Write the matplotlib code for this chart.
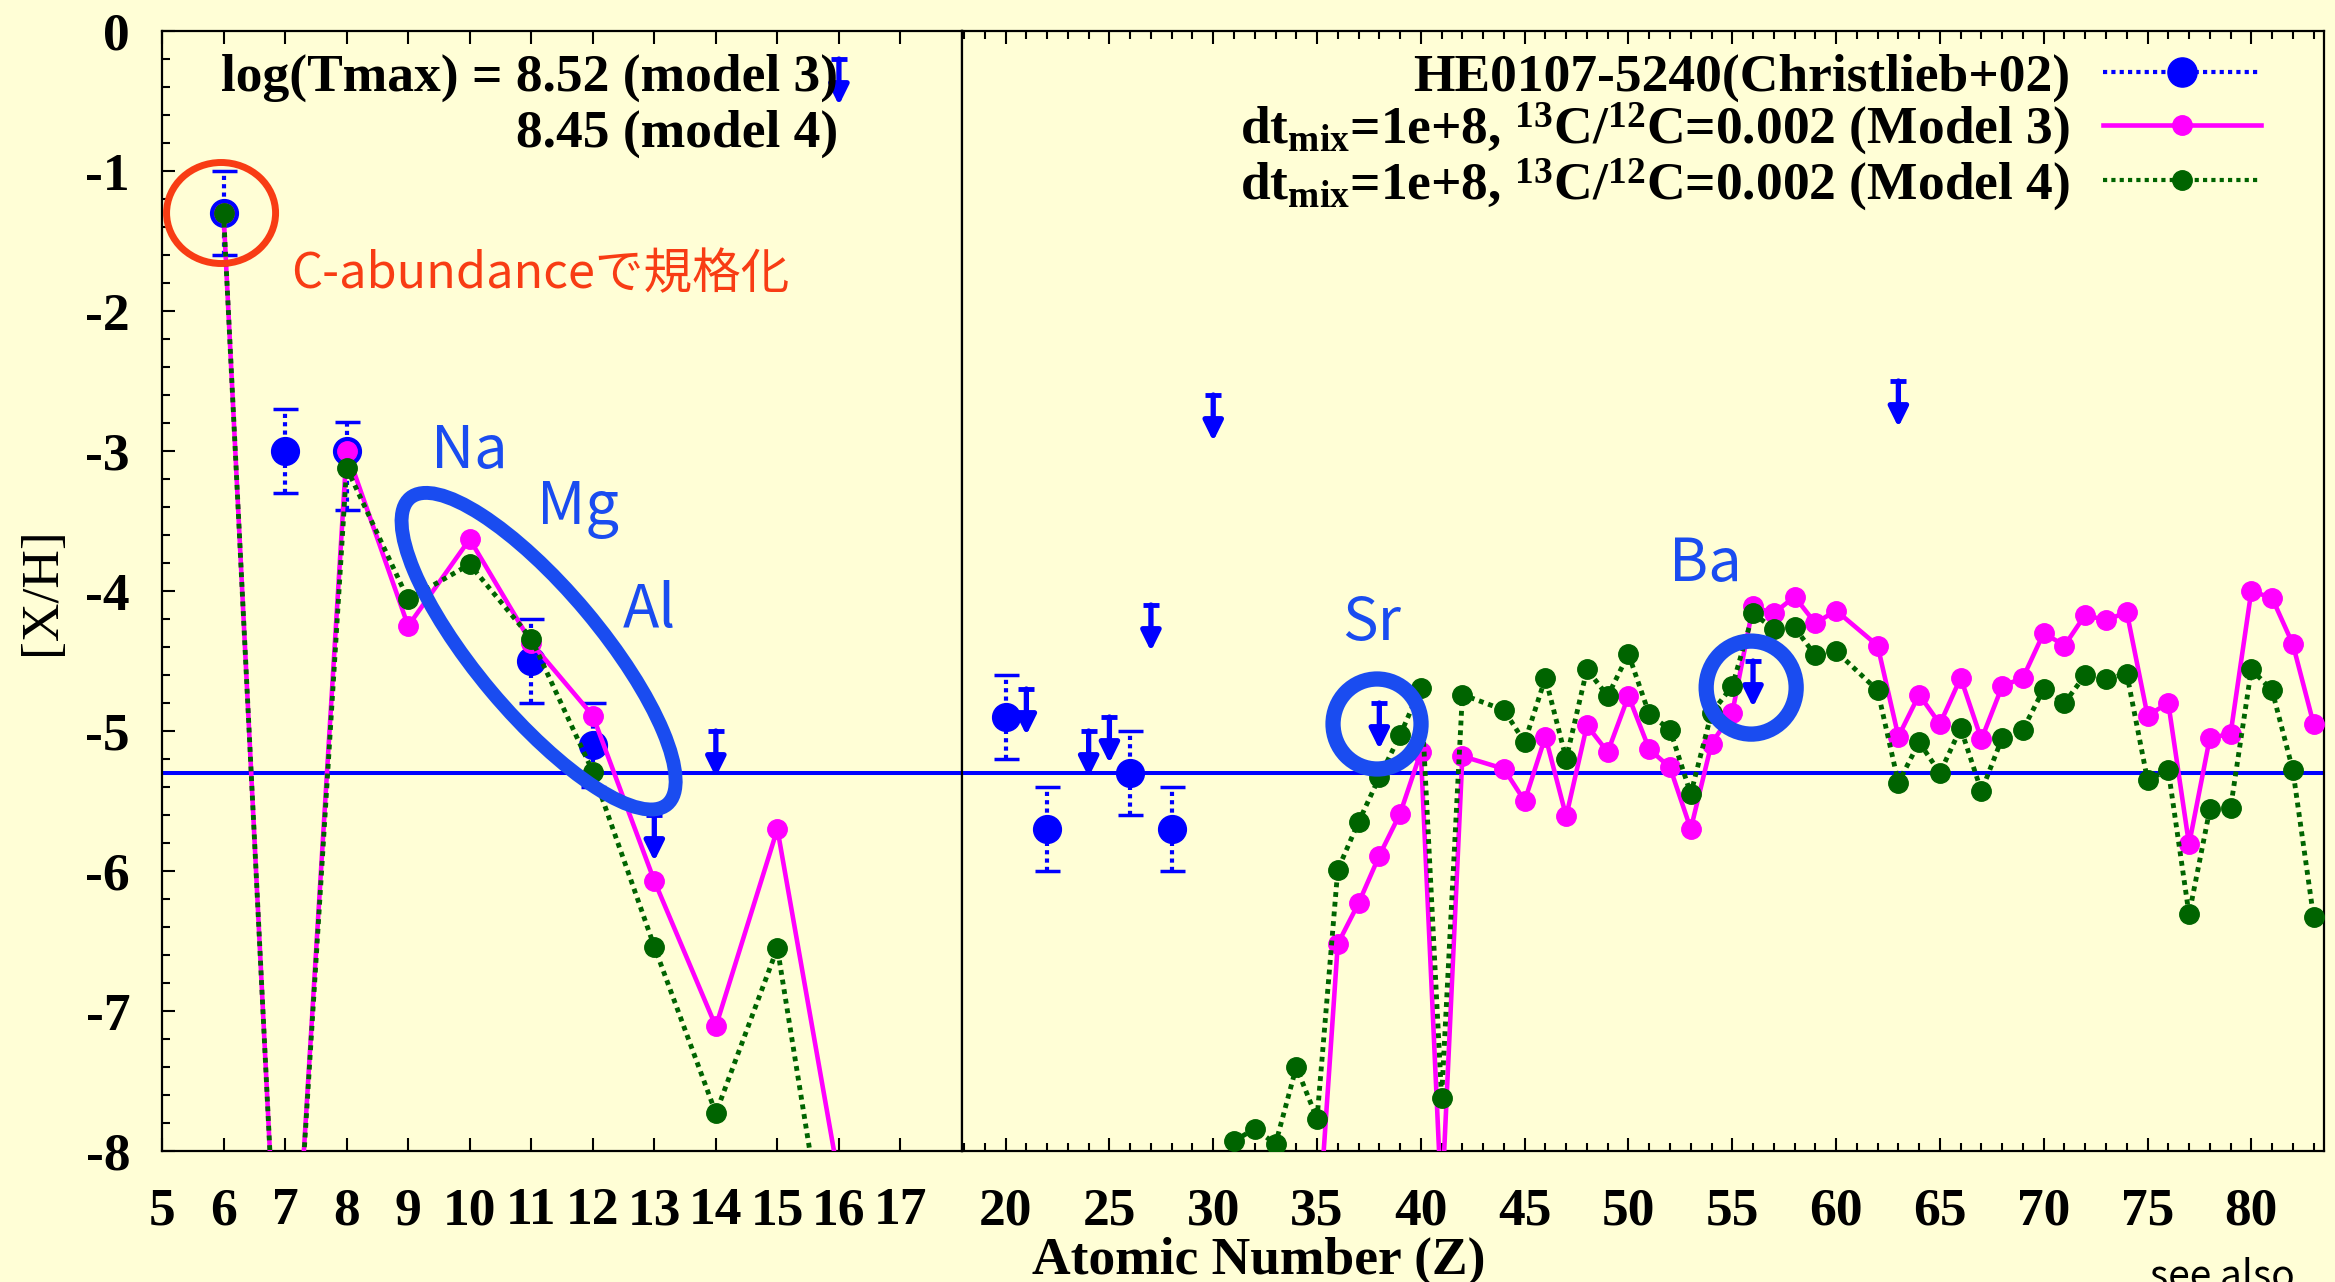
import matplotlib
matplotlib.use('Agg')
import matplotlib.pyplot as plt
from matplotlib.patches import Ellipse
from matplotlib.transforms import IdentityTransform
from matplotlib.lines import Line2D
from matplotlib.ticker import MultipleLocator

plt.rcParams['font.family'] = ['Liberation Serif', 'DejaVu Serif']
plt.rcParams['font.weight'] = 'bold'
plt.rcParams['axes.unicode_minus'] = False
plt.rcParams['mathtext.fontset'] = 'custom'
plt.rcParams['mathtext.rm'] = 'Liberation Serif:bold'
plt.rcParams['mathtext.it'] = 'Liberation Serif:bold'
plt.rcParams['mathtext.bf'] = 'Liberation Serif:bold'

# HE0107-5240 (Christlieb+02): detections
obs_z = [6, 7, 8, 11, 12, 20, 22, 26, 28]
obs_xh = [-1.3, -3.0, -3.0, -4.5, -5.1, -4.9, -5.7, -5.3, -5.7]
obs_err_lo = [0.3, 0.3, 0.42, 0.3, 0.3, 0.3, 0.3, 0.3, 0.3]
obs_err_hi = [0.3, 0.3, 0.21, 0.3, 0.3, 0.3, 0.3, 0.3, 0.3]
# upper limits
lim_z = [13, 14, 16, 21, 24, 25, 27, 30, 38, 56, 63]
lim_xh = [-5.6, -5.0, -0.2, -4.7, -5.0, -4.9, -4.1, -2.6, -4.8, -4.5, -2.5]
feh = -5.3

# models, light elements (left panel)
z_left = [6, 7, 8, 9, 10, 11, 12, 13, 14, 15, 16]
m3_left = [-1.3, -10.2, -3.0, -4.25, -3.63, -4.37, -4.89, -6.07, -7.11, -5.70, -8.2]
m4_left = [-1.3, -10.2, -3.12, -4.06, -3.81, -4.34, -5.29, -6.54, -7.73, -6.55, -9.3]

# models, heavy elements (right panel)
z3_right = [35, 36, 37, 38, 39, 40, 41, 42, 44, 45, 46, 47, 48, 49, 50, 51, 52, 53, 54,
            55, 56, 57, 58, 59, 60, 62, 63, 64, 65, 66, 67, 68, 69, 70, 71, 72, 73, 74,
            75, 76, 77, 78, 79, 80, 81, 82, 83]
m3_right = [-8.7, -6.52, -6.23, -5.89, -5.59, -5.15, -8.4, -5.18, -5.27, -5.50, -5.04,
            -5.61, -4.96, -5.15, -4.75, -5.13, -5.26, -5.70, -5.09, -4.87, -4.11, -4.16,
            -4.04, -4.23, -4.14, -4.39, -5.04, -4.74, -4.95, -4.62, -5.06, -4.68, -4.62,
            -4.30, -4.39, -4.17, -4.21, -4.15, -4.89, -4.80, -5.81, -5.05, -5.02, -4.00,
            -4.05, -4.38, -4.95]
z4_right = [31, 32, 33, 34, 35, 36, 37, 38, 39, 40, 41, 42, 44, 45, 46, 47, 48, 49, 50,
            51, 52, 53, 54, 55, 56, 57, 58, 59, 60, 62, 63, 64, 65, 66, 67, 68, 69, 70,
            71, 72, 73, 74, 75, 76, 77, 78, 79, 80, 81, 82, 83]
m4_right = [-7.93, -7.84, -7.95, -7.40, -7.77, -5.99, -5.65, -5.33, -5.03, -4.69, -7.62,
            -4.74, -4.85, -5.08, -4.62, -5.20, -4.56, -4.75, -4.45, -4.88, -4.99, -5.45,
            -4.87, -4.68, -4.16, -4.27, -4.26, -4.46, -4.43, -4.71, -5.37, -5.08, -5.30,
            -4.98, -5.43, -5.05, -4.99, -4.70, -4.80, -4.60, -4.63, -4.59, -5.35, -5.28,
            -6.31, -5.56, -5.55, -4.56, -4.71, -5.28, -6.33]

BG = '#fffed6'
BLUE = '#0000ff'
MAG = '#ff00ff'
GRN = '#006400'
RING = '#1a4cf0'
RED = '#f83c14'
FS = 38.5

fig = plt.figure(figsize=(23.35, 12.82), dpi=100, facecolor=BG)
ax1 = fig.add_axes([162 / 2335, 131 / 1282, 800 / 2335, 1120 / 1282], facecolor=BG)
ax2 = fig.add_axes([962 / 2335, 131 / 1282, 1362 / 2335, 1120 / 1282], facecolor=BG)
ax1.set_xlim(5, 18)
ax2.set_xlim(17.9, 83.5)


def draw(ax):
    ax.axhline(feh, color=BLUE, lw=2.9, zorder=1)
    eb = ax.errorbar(obs_z, obs_xh, yerr=[obs_err_lo, obs_err_hi], fmt='o', color=BLUE,
                     ms=20, capsize=9, capthick=2.5, elinewidth=3, zorder=2)
    eb[2][0].set_linestyle((0, (1, 1)))
    for z, v in zip(lim_z, lim_xh):
        ax.annotate('', xy=(z, v - 0.33), xytext=(z, v),
                    arrowprops=dict(arrowstyle='-|>,head_length=0.85,head_width=0.42',
                                    color=BLUE, lw=3.8, shrinkA=0, shrinkB=0,
                                    mutation_scale=14), zorder=2)
    ax.plot(lim_z, lim_xh, ls='none', marker='_', ms=11, mew=3.5, color=BLUE, zorder=2)
    ax.plot(z_left, m3_left, '-o', color=MAG, lw=3.3, ms=14, zorder=3)
    ax.plot(z3_right, m3_right, '-o', color=MAG, lw=3.3, ms=14, zorder=3)
    ax.plot(z_left, m4_left, color=GRN, ls=(0, (1, 1)), lw=3.5, marker='o', ms=14, zorder=4)
    ax.plot(z4_right, m4_right, color=GRN, ls=(0, (1, 1)), lw=3.5, marker='o', ms=14, zorder=4)
    ax.set_ylim(-8, 0)
    for s in ax.spines.values():
        s.set_linewidth(1.6)


draw(ax1)
draw(ax2)

ax1.set_xticks(range(5, 18))
ax1.set_yticks(range(-8, 1))
ax1.yaxis.set_minor_locator(MultipleLocator(0.2))
ax1.tick_params(which='both', direction='in', top=True, right=False, width=1.5,
                labelsize=FS)
ax1.tick_params(which='major', length=9.5)
ax1.tick_params(which='minor', length=6)
ax1.tick_params(axis='x', pad=26)
ax1.tick_params(axis='y', pad=23)

ax2.set_xticks(range(20, 81, 5))
ax2.xaxis.set_minor_locator(MultipleLocator(1))
ax2.tick_params(which='both', direction='in', top=True, left=False, right=False,
                labelleft=False, width=1.5, labelsize=FS, pad=26)
ax2.tick_params(which='major', length=9.5)
ax2.tick_params(which='minor', length=6)

ax1.set_ylabel('[X/H]', fontsize=FS)
ax1.yaxis.set_label_coords(-0.12, 0.5)
fig.text(1259 / 2335, 8 / 1282, 'Atomic Number (Z)', ha='center', va='baseline', fontsize=FS)
fig.text(2150 / 2335, -6 / 1282, 'see also', ha='left', va='baseline', fontsize=28,
         family=['Noto Sans CJK JP'], weight='normal')

ax1.text(0.845, 0.947, 'log(Tmax) = 8.52 (model 3)', transform=ax1.transAxes,
         ha='right', va='baseline', fontsize=FS)
ax1.text(0.845, 0.897, '8.45 (model 4)', transform=ax1.transAxes,
         ha='right', va='baseline', fontsize=FS)
ax1.text(0.161, 0.7705, 'C-abundanceで規格化', transform=ax1.transAxes, ha='left',
         va='baseline', color=RED, fontsize=35, family=['Noto Sans CJK JP'], weight='normal')

sans = dict(family=['Noto Sans CJK JP'], weight='normal', color=RING, fontsize=43,
            ha='center', va='baseline')
ax1.text(10.0, -3.12, 'Na', **sans)
ax1.text(11.76, -3.52, 'Mg', **sans)
ax1.text(12.92, -4.26, 'Al', **sans)
ax2.text(37.63, -4.35, 'Sr', **sans)
ax2.text(53.7, -3.93, 'Ba', **sans)

labels = ['HE0107-5240(Christlieb+02)',
          r'dt$_{\mathrm{mix}}$=1e+8, $^{\mathrm{13}}$C/$^{\mathrm{12}}$C=0.002 (Model 3)',
          r'dt$_{\mathrm{mix}}$=1e+8, $^{\mathrm{13}}$C/$^{\mathrm{12}}$C=0.002 (Model 4)']
handles = [Line2D([], [], color=BLUE, ls=(0, (1, 1)), lw=3, marker='o', ms=21),
           Line2D([], [], color=MAG, lw=3.3, marker='o', ms=14),
           Line2D([], [], color=GRN, ls=(0, (1, 1)), lw=3, marker='o', ms=14)]
ax2.legend(handles, labels, loc='upper right', bbox_to_anchor=(0.9537, 0.98),
           frameon=False, markerfirst=False, handlelength=2.95, handletextpad=0.62,
           labelspacing=-0.03, borderpad=0, borderaxespad=0, numpoints=1, fontsize=FS)


def ring(ax, x, y, w, h, angle, color, lw):
    cx, cy = ax.transData.transform((x, y))
    e = Ellipse((cx, cy), w, h, angle=angle, transform=IdentityTransform(),
                fill=False, edgecolor=color, lw=lw, zorder=5)
    fig.add_artist(e)


ring(ax1, 5.96, -1.3, 109, 101, 0, RED, 5)
ring(ax1, 11.12, -4.43, 400, 124, -50, RING, 10)
ring(ax2, 37.89, -4.95, 88, 90, 0, RING, 11)
ring(ax2, 55.91, -4.69, 90, 93, 0, RING, 11)

fig.savefig('out.png', dpi=100, facecolor=BG)
